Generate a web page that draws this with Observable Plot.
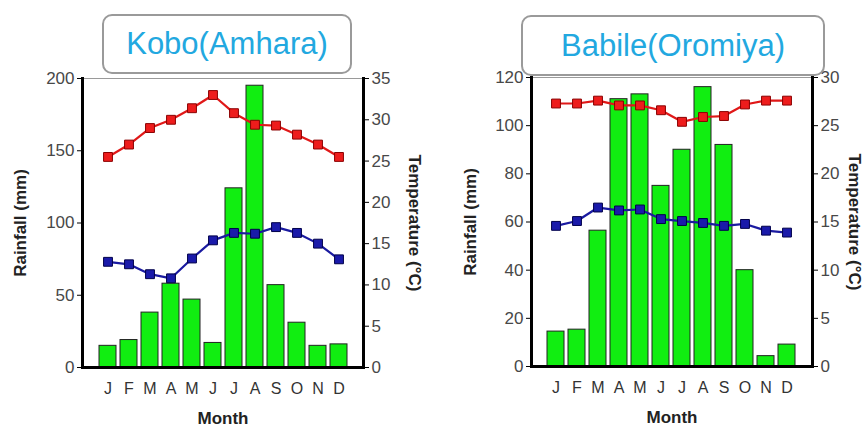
<!DOCTYPE html>
<html><head><meta charset="utf-8">
<script src="https://cdn.jsdelivr.net/npm/d3@7"></script>
<script src="https://cdn.jsdelivr.net/npm/@observablehq/plot@0.6"></script>
<style>
body{margin:0;background:#fff;width:864px;height:428px;overflow:hidden;position:relative;font-family:"Liberation Sans",Arial,sans-serif}
.panel{position:absolute;top:0;width:432px;height:428px}
.title{position:absolute;box-sizing:border-box;border:2px solid #9a9a9a;border-radius:10px;background:#fff;color:#22a8e0;font-size:31px;display:flex;align-items:center;justify-content:center;font-family:"Liberation Sans",Arial,sans-serif}
</style></head><body>
<div id="left" class="panel" style="left:0"></div>
<div id="right" class="panel" style="left:432px"></div>
<div class="title" style="left:102px;top:14px;width:250px;height:60px">Kobo(Amhara)</div>
<div class="title" style="left:521px;top:15px;width:304px;height:61px">Babile(Oromiya)</div>
<script>
const monthLabels = ["J","F","M","A","M","J","J","A","S","O","N","D"];
const koboRain = [15,19,38,58,47,17,124,195,57,31,15,16];
const koboTmax = [25.5,27.0,29.0,30.0,31.4,33.0,30.8,29.4,29.3,28.2,27.0,25.5];
const koboTmin = [12.8,12.5,11.3,10.8,13.2,15.4,16.3,16.2,17.0,16.3,15.0,13.1];
const babileRain = [14.5,15.3,56.4,111,113,75,90,116,92,40,4.3,9.1];
const babileTmax = [27.3,27.3,27.6,27.1,27.1,26.6,25.4,25.9,26.0,27.2,27.6,27.6];
const babileTmin = [14.6,15.1,16.5,16.2,16.3,15.3,15.1,14.9,14.6,14.8,14.1,13.9];
const koboRainTicks = [0,50,100,150,200];
const koboTempTicks = [0,5,10,15,20,25,30,35];
const babileRainTicks = [0,20,40,60,80,100,120];
const babileTempTicks = [0,5,10,15,20,25,30];

const FONT = "'Liberation Sans', Arial, sans-serif";

function chart(o) {
  const data = o.rain.map((r, i) => ({i, rain: r, tmax: o.tmax[i], tmin: o.tmin[i]}));
  const k = o.rainTicks[o.rainTicks.length-1] / o.tempTicks[o.tempTicks.length-1];
  const line = (key, color, fill, dark) => [
    Plot.line(data, {x: "i", y: d => d[key] * k, stroke: color, strokeWidth: 2.2}),
    Plot.dot(data, {x: "i", y: d => d[key] * k, symbol: "square", r: 5, fill: fill, stroke: dark, strokeWidth: 1})
  ];
  return Plot.plot({
    width: 432, height: 428,
    marginLeft: o.ml, marginRight: o.mr, marginTop: o.mt, marginBottom: o.mb,
    style: {fontFamily: FONT, background: "transparent", overflow: "visible"},
    x: {type: "band", domain: d3.range(12), padding: 0.2, insetLeft: o.il, insetRight: o.ir},
    y: {domain: [0, o.rainTicks[o.rainTicks.length-1]]},
    marks: [
      Plot.frame({stroke: "#9a9a9a", strokeWidth: 1}),
      Plot.barY(data, {x: "i", y: "rain", fill: "#11ee11", stroke: "#222", strokeWidth: 1}),
      Plot.frame({anchor: "left", stroke: "#000", strokeWidth: 3}),
      Plot.frame({anchor: "right", stroke: "#000", strokeWidth: 3}),
      Plot.frame({anchor: "bottom", stroke: "#000", strokeWidth: 3}),
      ...line("tmax", "#e01818", "#ee1c1c", "#8a0000"),
      ...line("tmin", "#1a1aa0", "#1a1aaa", "#00004a"),
      Plot.axisY(o.rainTicks, {anchor: "left", tickSize: 5, tickPadding: 3, fontSize: 17, stroke: "#000", fill: "#484848", label: null}),
      Plot.axisY(o.tempTicks.map(t => t * k), {anchor: "right", tickSize: 5, tickPadding: 3, fontSize: 17, stroke: "#000", fill: "#484848", label: null, tickFormat: d => Math.round(d / k)}),
      Plot.axisX({anchor: "bottom", tickSize: 0, tickPadding: 15, fontSize: 16, fill: "#333", label: null, tickFormat: i => monthLabels[i]}),
      Plot.text(["Rainfall (mm)"], {frameAnchor: "left", dx: o.ylx, rotate: -90, textAnchor: "middle", lineAnchor: "middle", fontSize: 17, fontWeight: "bold", fill: "#222"}),
      Plot.text(["Temperature (°C)"], {frameAnchor: "right", dx: o.tlx, rotate: 90, textAnchor: "middle", lineAnchor: "middle", fontSize: 17, fontWeight: "bold", fill: "#222"}),
      Plot.text(["Month"], {frameAnchor: "bottom", dy: 51, textAnchor: "middle", lineAnchor: "middle", fontSize: 17, fontWeight: "bold", fill: "#222"})
    ]
  });
}

document.getElementById("left").append(chart({
  rain: koboRain, tmax: koboTmax, tmin: koboTmin, rainTicks: koboRainTicks, tempTicks: koboTempTicks,
  ml: 82, mr: 69, mt: 78, mb: 61, il: 9.5, ir: 8, ylx: -62, tlx: 51
}));
document.getElementById("right").append(chart({
  rain: babileRain, tmax: babileTmax, tmin: babileTmin, rainTicks: babileRainTicks, tempTicks: babileTempTicks,
  ml: 99, mr: 52, mt: 77, mb: 62, il: 8, ir: 9, ylx: -61, tlx: 42
}));
</script>
</body></html>
